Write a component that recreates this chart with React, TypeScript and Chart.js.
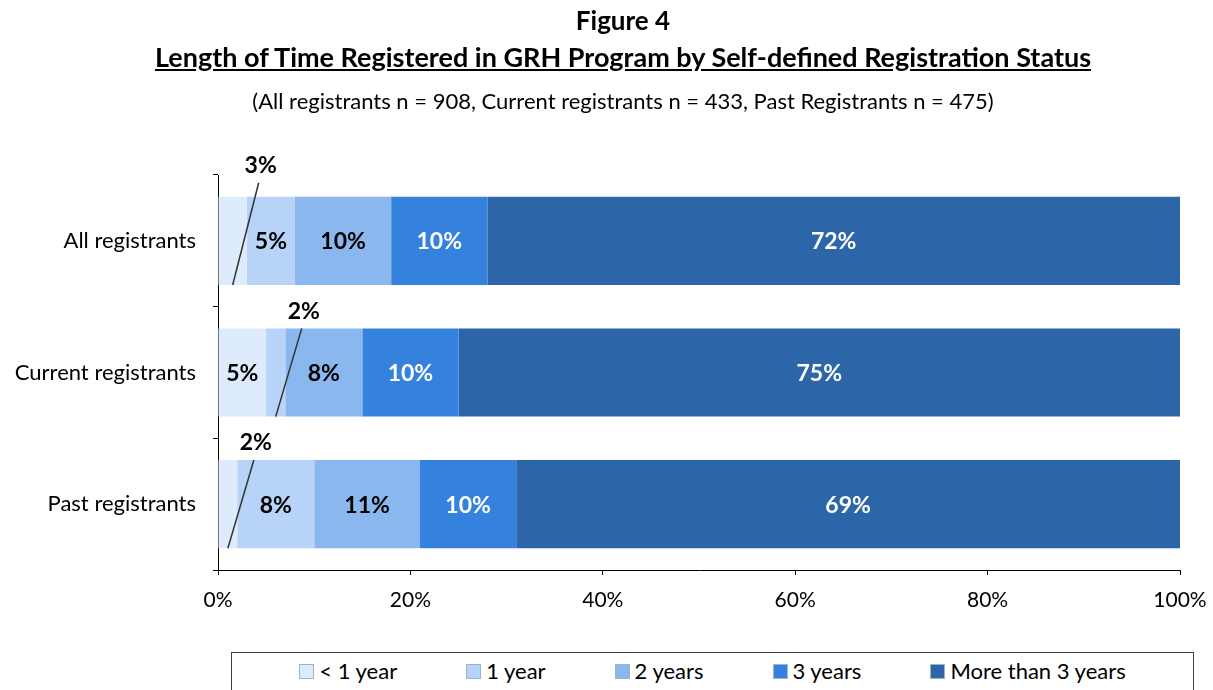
import React, { useEffect, useRef } from "react";
import { Chart, registerables } from "chart.js";

Chart.register(...registerables);

const categories = ["All registrants", "Current registrants", "Past registrants"];
const seriesNames = ["< 1 year", "1 year", "2 years", "3 years", "More than 3 years"];
const lessThan1 = [3, 5, 2];
const oneYear = [5, 2, 8];
const twoYears = [10, 8, 11];
const threeYears = [10, 10, 10];
const moreThan3 = [72, 75, 69];
const seriesColors = ["#DDEBFC", "#B7D3F7", "#8AB8EE", "#3482DE", "#2C66A8"];
const labelColors = ["#000000", "#000000", "#000000", "#FFFFFF", "#FFFFFF"];
const xTicks = [0, 20, 40, 60, 80, 100];

const FONT = "Lato, 'Open Sans', sans-serif";

const labelPlugin = {
  id: "segLabels",
  afterDatasetsDraw(chart: any) {
    const ctx = chart.ctx;
    ctx.save();
    ctx.font = `bold 23px ${FONT}`;
    ctx.textAlign = "center";
    ctx.textBaseline = "middle";
    chart.data.datasets.forEach((ds: any, di: number) => {
      const meta = chart.getDatasetMeta(di);
      meta.data.forEach((bar: any, i: number) => {
        const v = ds.data[i];
        const p = bar.getProps(["x", "y", "base", "height"], true);
        const cx = (p.x + p.base) / 2;
        const top = p.y - p.height / 2;
        const bottom = p.y + p.height / 2;
        if (v >= 5) {
          ctx.fillStyle = labelColors[di];
          ctx.fillText(v + "%", cx, p.y + 1);
        } else {
          const lift = i === 0 ? 14 : 0;
          ctx.strokeStyle = "#333";
          ctx.lineWidth = 1.5;
          ctx.beginPath();
          ctx.moveTo(cx, bottom);
          ctx.lineTo(cx + 26, top - lift);
          ctx.stroke();
          ctx.fillStyle = "#000";
          ctx.fillText(v + "%", cx + 28, top - lift - 17);
        }
      });
    });
    ctx.restore();
  },
};

export default function App() {
  const ref = useRef<HTMLCanvasElement>(null);
  useEffect(() => {
    if (!ref.current) return;
    const series = [lessThan1, oneYear, twoYears, threeYears, moreThan3];
    const chart = new Chart(ref.current, {
      type: "bar",
      data: {
        labels: categories,
        datasets: series.map((d, k) => ({
          label: seriesNames[k],
          data: d,
          backgroundColor: seriesColors[k],
          borderWidth: 0,
          barPercentage: 0.67,
          categoryPercentage: 1,
        })),
      },
      options: {
        indexAxis: "y",
        responsive: false,
        animation: false,
        layout: { padding: { top: 175, right: 33, left: 0, bottom: 0 } },
        plugins: {
          legend: { display: false },
          title: { display: false },
          tooltip: { enabled: false },
        },
        scales: {
          x: {
            stacked: true,
            min: 0,
            max: 100,
            afterBuildTicks(scale: any) {
              scale.ticks = xTicks.map((v) => ({ value: v }));
            },
            afterFit(scale: any) {
              scale.height = 70;
              scale.paddingRight = 0;
              scale.paddingLeft = 0;
            },
            border: { display: true, color: "#000", width: 1 },
            grid: { drawOnChartArea: false, drawTicks: true, tickLength: 5, color: "#000" },
            ticks: {
              padding: 13,
              color: "#000",
              font: { family: FONT, size: 21 },
              callback: (v: any) => v + "%",
            },
          },
          y: {
            stacked: true,
            afterFit(scale: any) {
              scale.width = 218;
            },
            border: { display: true, color: "#000", width: 1 },
            grid: { drawOnChartArea: false, drawTicks: true, tickLength: 5, color: "#000", offset: true },
            ticks: {
              padding: 17,
              color: "#000",
              font: { family: FONT, size: 22 },
            },
          },
        },
      },
      plugins: [labelPlugin],
    } as any);
    return () => chart.destroy();
  }, []);

  return (
    <div
      style={{
        position: "absolute",
        left: 0,
        top: 0,
        width: 1213,
        height: 690,
        overflow: "hidden",
        background: "#fff",
        fontFamily: FONT,
        color: "#000",
      }}
    >
      <canvas ref={ref} width={1213} height={640} style={{ position: "absolute", left: 0, top: 0 }} />
      <div style={{ position: "absolute", left: 0, width: 1246, top: 3, textAlign: "center", fontWeight: 700, fontSize: 26, lineHeight: "34px" }}>
        Figure 4
      </div>
      <div style={{ position: "absolute", left: 0, width: 1246, top: 40, textAlign: "center", fontWeight: 700, fontSize: 27, lineHeight: "34px", textDecoration: "underline" }}>
        Length of Time Registered in GRH Program by Self-defined Registration Status
      </div>
      <div style={{ position: "absolute", left: 0, width: 1246, top: 86, textAlign: "center", fontSize: 22, lineHeight: "30px" }}>
        (All registrants n = 908, Current registrants n = 433, Past Registrants n = 475)
      </div>
      <div
        style={{
          position: "absolute",
          left: 231,
          top: 652,
          width: 963,
          height: 60,
          border: "1px solid #404040",
          boxSizing: "border-box",
          display: "flex",
          justifyContent: "center",
          paddingTop: 4,
          fontSize: 22,
          lineHeight: "28px",
          gap: 69,
        }}
      >
        {seriesNames.map((n, k) => (
          <div key={n} style={{ display: "flex", alignItems: "center", gap: 5, height: 28 }}>
            <span style={{ width: 13, height: 13, background: seriesColors[k], border: "1px solid #9fb3c8", display: "inline-block" }} />
            <span>{n}</span>
          </div>
        ))}
      </div>
    </div>
  );
}
